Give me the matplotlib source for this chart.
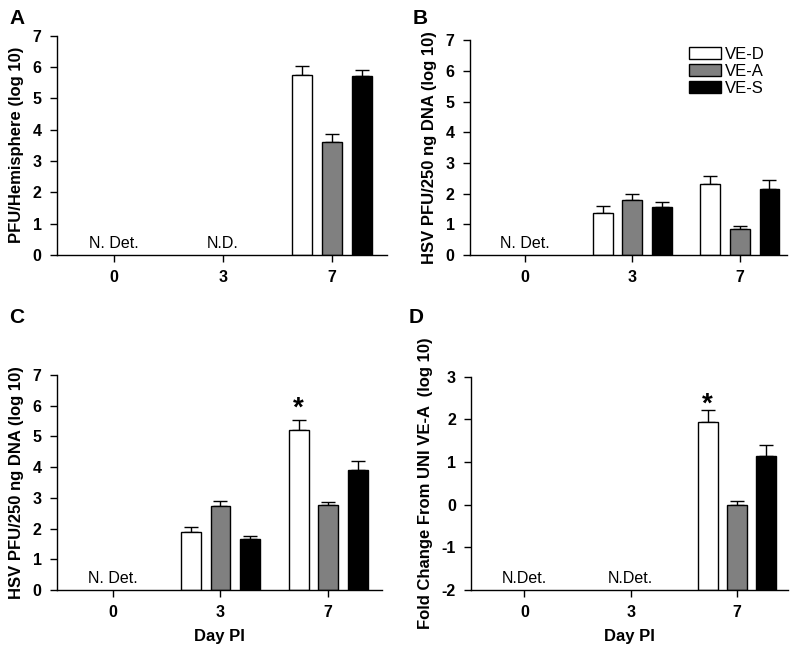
import numpy as np
import matplotlib
matplotlib.use('Agg')
import matplotlib.pyplot as plt
from matplotlib.patches import Patch

plt.rcParams['font.family'] = ['Liberation Sans', 'DejaVu Sans']
plt.rcParams['axes.unicode_minus'] = False

days = ['0', '3', '7']
groups = ['VE-D', 'VE-A', 'VE-S']
colors = ['white', '#808080', 'black']

# means (nan = not detected) and upper error (SEM)
a_mean = {'VE-D': [np.nan, np.nan, 5.75], 'VE-A': [np.nan, np.nan, 3.60], 'VE-S': [np.nan, np.nan, 5.70]}
a_err = {'VE-D': [0, 0, 0.28], 'VE-A': [0, 0, 0.25], 'VE-S': [0, 0, 0.20]}
b_mean = {'VE-D': [np.nan, 1.35, 2.30], 'VE-A': [np.nan, 1.80, 0.85], 'VE-S': [np.nan, 1.55, 2.15]}
b_err = {'VE-D': [0, 0.25, 0.28], 'VE-A': [0, 0.17, 0.10], 'VE-S': [0, 0.18, 0.28]}
c_mean = {'VE-D': [np.nan, 1.90, 5.22], 'VE-A': [np.nan, 2.72, 2.75], 'VE-S': [np.nan, 1.65, 3.92]}
c_err = {'VE-D': [0, 0.15, 0.30], 'VE-A': [0, 0.18, 0.12], 'VE-S': [0, 0.10, 0.28]}
d_mean = {'VE-D': [np.nan, np.nan, 1.93], 'VE-A': [np.nan, np.nan, 0.00], 'VE-S': [np.nan, np.nan, 1.15]}
d_err = {'VE-D': [0, 0, 0.29], 'VE-A': [0, 0, 0.08], 'VE-S': [0, 0, 0.25]}

fig = plt.figure(figsize=(8, 6.5), dpi=100)

panels = [
    # letter, letter pos, rect, data, err, ylim, ylabel, xlim, nd labels, star, xlabel
    ('A', (0.021, 0.972), [0.071, 0.608, 0.413, 0.337], a_mean, a_err, (0, 7), 'PFU/Hemisphere (log 10)',
     (-0.523, 2.505), {0: 'N. Det.', 1: 'N.D.'}, None, None),
    ('B', (0.525, 0.972), [0.5875, 0.608, 0.3965, 0.330], b_mean, b_err, (0, 7), 'HSV PFU/250 ng DNA (log 10)',
     (-0.51, 2.44), {0: 'N. Det.'}, None, None),
    ('C', (0.021, 0.511), [0.071, 0.0923, 0.4065, 0.331], c_mean, c_err, (0, 7), 'HSV PFU/250 ng DNA (log 10)',
     (-0.52, 2.5), {0: 'N. Det.'}, 5.48, 'Day PI'),
    ('D', (0.52, 0.511), [0.589, 0.0923, 0.396, 0.328], d_mean, d_err, (-2, 3), 'Fold Change From UNI VE-A  (log 10)',
     (-0.5, 2.48), {0: 'N.Det.', 1: 'N.Det.'}, 2.05, 'Day PI'),
]

x = np.arange(len(days))
width = 0.185
offset = 0.275

for letter, lpos, rect, mean, err, ylim, ylabel, xlim, nd, star, xlabel in panels:
    ax = fig.add_axes(rect)
    base = ylim[0]
    for i, g in enumerate(groups):
        m = np.array(mean[g], dtype=float)
        e = np.array(err[g], dtype=float)
        xs = x + (i - 1) * offset
        ok = ~np.isnan(m)
        ax.bar(xs[ok], m[ok] - base, width, bottom=base, color=colors[i],
               edgecolor='black', linewidth=1.0, zorder=2, label=g)
        ax.errorbar(xs[ok], m[ok], yerr=[np.zeros(ok.sum()), e[ok]], fmt='none',
                    ecolor='black', elinewidth=1.0, capsize=5, capthick=1.0, zorder=1)
    for k, txt in nd.items():
        ax.text(k, base + 0.12 * (ylim[1] - ylim[0]) / 7, txt, ha='center', va='bottom', fontsize=11.5)
    if star is not None:
        ax.text(x[2] - offset, star, '*', ha='center', va='bottom', fontsize=20, fontweight='bold')
    ax.set_xlim(*xlim)
    ax.set_ylim(*ylim)
    ax.set_xticks(x)
    ax.set_xticklabels(days)
    ax.set_yticks(np.arange(ylim[0], ylim[1] + 1))
    for s in ['top', 'right']:
        ax.spines[s].set_visible(False)
    for s in ['left', 'bottom']:
        ax.spines[s].set_linewidth(1.0)
    ax.tick_params(axis='both', labelsize=11.5, length=5, width=1.0, pad=6)
    for lab in ax.get_xticklabels() + ax.get_yticklabels():
        lab.set_fontweight('bold')
    ax.set_ylabel(ylabel, fontsize=12, fontweight='bold', labelpad=6)
    if xlabel:
        ax.set_xlabel(xlabel, fontsize=12, fontweight='bold', labelpad=6)
    fig.text(lpos[0], lpos[1], letter, fontsize=15, fontweight='bold', ha='center', va='center')
    if letter == 'B':
        handles = [Patch(facecolor=c, edgecolor='black', linewidth=1.0) for c in colors]
        ax.legend(handles, groups, loc='upper right', bbox_to_anchor=(0.95, 1.0), frameon=False,
                  fontsize=12, handlelength=1.9, handleheight=0.75, labelspacing=0.12,
                  handletextpad=0.25, borderaxespad=0)

fig.savefig('out.png', dpi=100)
